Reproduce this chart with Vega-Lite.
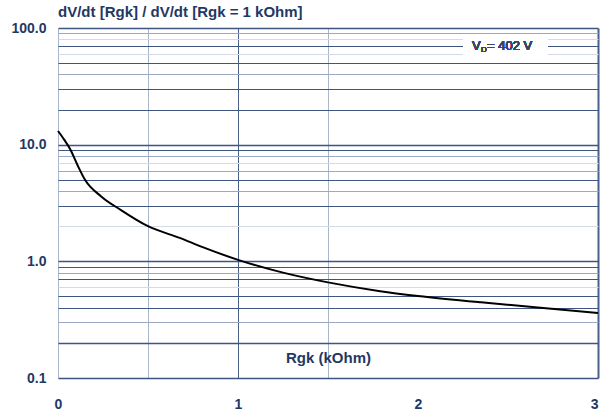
{
  "$schema": "https://vega.github.io/schema/vega-lite/v6.json",
  "width": 540,
  "height": 350,
  "autosize": {"type": "none"},
  "padding": {"left": 58, "top": 28, "right": 2, "bottom": 36},
  "background": "white",
  "config": {
    "view": {"stroke": null},
    "font": "Liberation Sans"
  },
  "title": {
    "text": "dV/dt [Rgk] / dV/dt [Rgk = 1 kOhm]",
    "anchor": "start",
    "frame": "group",
    "offset": 1,
    "fontSize": 15,
    "fontWeight": "bold",
    "color": "#1f3864",
    "font": "Liberation Sans"
  },
  "data": {
    "values": [
      {"rgk": 0.0, "ratio": 13.1},
      {"rgk": 0.03, "ratio": 11.3},
      {"rgk": 0.07, "ratio": 9.0},
      {"rgk": 0.11, "ratio": 6.6},
      {"rgk": 0.15, "ratio": 5.0},
      {"rgk": 0.24, "ratio": 3.6},
      {"rgk": 0.35, "ratio": 2.75},
      {"rgk": 0.5, "ratio": 2.0},
      {"rgk": 0.68, "ratio": 1.58},
      {"rgk": 0.8, "ratio": 1.33},
      {"rgk": 1.0, "ratio": 1.03},
      {"rgk": 1.25, "ratio": 0.8},
      {"rgk": 1.5, "ratio": 0.66},
      {"rgk": 1.79, "ratio": 0.555},
      {"rgk": 2.0, "ratio": 0.505},
      {"rgk": 2.35, "ratio": 0.445},
      {"rgk": 2.65, "ratio": 0.405},
      {"rgk": 3.0, "ratio": 0.36}
    ]
  },
  "layer": [
    {
      "mark": {"type": "line", "color": "black", "strokeWidth": 2, "interpolate": "monotone"},
      "encoding": {
        "x": {
          "field": "rgk",
          "type": "quantitative",
          "scale": {"domain": [0, 3], "nice": false},
          "axis": {
            "values": [0, 0.5, 1, 1.5, 2, 2.5, 3],
            "labelExpr": "datum.value % 1 == 0 ? format(datum.value, 'd') : ''",
            "labelFontSize": 14,
            "labelFontWeight": "bold",
            "labelColor": "#1f3864",
            "labelPadding": 19,
            "labelOverlap": false,
            "labelFlush": false,
            "labelAlign": {"condition": {"test": "datum.value == 3", "value": "right"}, "value": "center"},
            "ticks": false,
            "domain": false,
            "grid": true,
            "gridColor": {
              "condition": [
                {"test": "datum.value == 2 || datum.value == 2.5", "value": "rgba(0,0,0,0)"},
                {"test": "datum.value == 1 || datum.value == 3", "value": "#4a6088"}
              ],
              "value": "#aab6cc"
            },
            "gridWidth": {"condition": {"test": "datum.value == 3", "value": 2}, "value": 1},
            "title": "Rgk (kOhm)",
            "titleFontSize": 15,
            "titleFontWeight": "bold",
            "titleColor": "#1f3864",
            "titleBaseline": "middle",
            "titleY": -21
          }
        },
        "y": {
          "field": "ratio",
          "type": "quantitative",
          "scale": {"type": "log", "domain": [0.1, 100], "nice": false},
          "axis": {
            "values": [0.1, 0.2, 0.3, 0.4, 0.5, 0.6, 0.7, 0.8, 0.9, 1, 2, 3, 4, 5, 6, 7, 8, 9, 10, 20, 30, 40, 50, 60, 70, 80, 90, 100],
            "labelExpr": "(datum.value == 0.1 || datum.value == 1 || datum.value == 10 || datum.value == 100) ? format(datum.value, '.1f') : ''",
            "labelFontSize": 14,
            "labelFontWeight": "bold",
            "labelColor": "#1f3864",
            "labelPadding": 12,
            "labelOverlap": false,
            "labelFlush": false,
            "labelBound": false,
            "ticks": false,
            "domain": false,
            "grid": true,
            "gridColor": {
              "condition": [
                {"test": "indexof([0.1, 0.2, 0.4, 0.5, 0.7, 0.9, 1, 3, 5, 9, 10, 20, 30, 50, 70, 100], datum.value) >= 0", "value": "#3d557f"},
                {"test": "indexof([0.3, 0.8, 4, 6, 8, 40, 90], datum.value) >= 0", "value": "#9aa8c2"}
              ],
              "value": "#d4dae6"
            },
            "gridWidth": {"condition": {"test": "indexof([0.2, 1, 10, 100, 0.1], datum.value) >= 0", "value": 1.6}, "value": 1.2},
            "title": null
          }
        }
      }
    },
    {
      "mark": {"type": "rect", "color": "white"},
      "encoding": {
        "x": {"datum": 2.25},
        "x2": {"datum": 2.72},
        "y": {"datum": 57},
        "y2": {"datum": 84}
      }
    },
    {
      "mark": {"type": "text", "align": "left", "baseline": "middle", "fontSize": 13, "fontWeight": "normal", "color": "#3a4660", "font": "Liberation Sans"},
      "encoding": {"x": {"datum": 2.3}, "y": {"datum": 70}, "text": {"value": "V"}}
    },
    {
      "mark": {"type": "text", "align": "left", "baseline": "middle", "fontSize": 8, "fontWeight": "normal", "dx": 9, "dy": 4, "color": "#3a4660", "font": "Liberation Sans"},
      "encoding": {"x": {"datum": 2.3}, "y": {"datum": 70}, "text": {"value": "D"}}
    },
    {
      "mark": {"type": "text", "align": "left", "baseline": "middle", "fontSize": 13, "fontWeight": "normal", "dx": 15, "color": "#3a4660", "font": "Liberation Sans"},
      "encoding": {"x": {"datum": 2.3}, "y": {"datum": 70}, "text": {"value": "= 402 V"}}
    }
  ]
}
